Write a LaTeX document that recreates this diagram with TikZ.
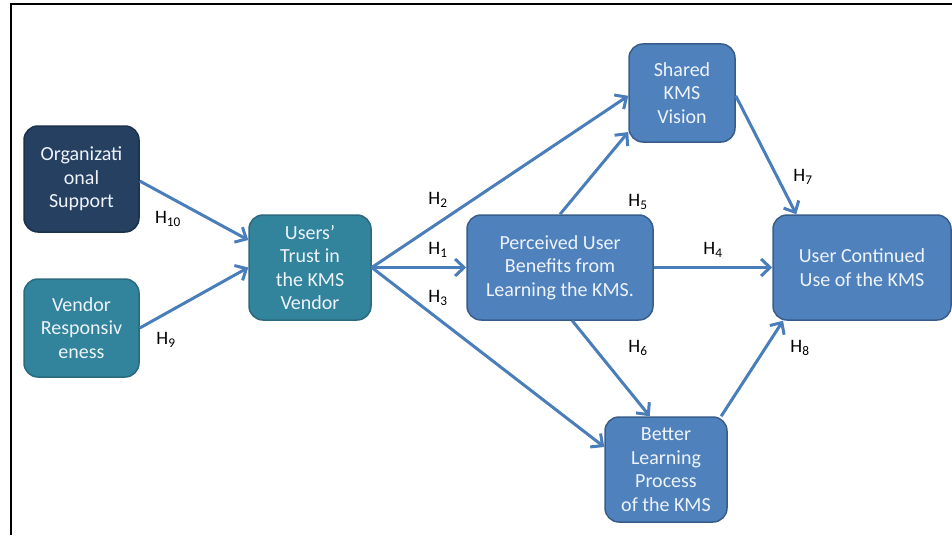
\documentclass[tikz,border=0pt]{standalone}
\usepackage{fontspec}
\setmainfont{Carlito}
\usetikzlibrary{arrows.meta,calc}
\definecolor{navyfill}{HTML}{254061}
\definecolor{navyline}{HTML}{1C314B}
\definecolor{tealfill}{HTML}{31849B}
\definecolor{tealline}{HTML}{2B6A7E}
\definecolor{bluefill}{HTML}{4F81BD}
\definecolor{blueline}{HTML}{385D8A}
\definecolor{edgec}{HTML}{4A7EBB}
\definecolor{boxtext}{HTML}{EEF3FA}
\begin{document}
\begin{tikzpicture}[x=1pt,y=-1pt,
  box/.style={line width=1.5pt, rounded corners=14pt, align=center, text=boxtext,
    font=\fontsize{20}{23.5}\selectfont, inner sep=0pt},
  navybox/.style={box, fill=navyfill, draw=navyline},
  tealbox/.style={box, fill=tealfill, draw=tealline},
  bluebox/.style={box, fill=bluefill, draw=blueline},
  conn/.style={draw=edgec, line width=3pt, -{Straight Barb[length=9pt,width=17pt]}},
  hlab/.style={font=\fontsize{19}{21}\selectfont, text=black, inner sep=0pt}
]
\useasboundingbox (0,0) rectangle (952,535);
\draw[line width=2pt] (952,4) -- (10.5,4) -- (10.5,535);

\node[navybox, minimum width=115pt, minimum height=106pt] (org) at (81.5,179) {Organizati\\onal\\Support};
\node[tealbox, minimum width=115pt, minimum height=98pt] (vendor) at (81.5,328) {Vendor\\Responsiv\\eness};
\node[tealbox, minimum width=122pt, minimum height=105pt] (trust) at (310,267.5) {Users’\\Trust in\\the KMS\\Vendor};
\node[bluebox, minimum width=186pt, minimum height=105pt] (perc) at (560,267.5) {Perceived User\\Benefits from\\Learning the KMS.};
\node[bluebox, minimum width=106pt, minimum height=98pt] (shared) at (682,93) {Shared\\KMS\\Vision};
\node[bluebox, minimum width=178pt, minimum height=105pt] (ucu) at (862,267.5) {User Continued\\Use of the KMS};
\node[bluebox, minimum width=122pt, minimum height=105pt] (better) at (666,469.5) {Better\\Learning\\Process\\of the KMS};

\draw[conn] (org.-2) -- (trust.156);
\draw[conn] (vendor.east) -- (trust.west);
\draw[conn] (trust.east) -- (shared.183);
\draw[conn] (trust.east) -- (perc.west);
\draw[conn] (trust.east) -- (better.160);
\draw[conn] (perc.north) -- (shared.216);
\draw[conn] (perc.east) -- (ucu.west);
\draw[conn] (perc.-77) -- (better.107);
\draw[conn] (shared.-3) -- (ucu.141);
\draw[conn] (better.44) -- (ucu.214);

\node[hlab] (h10) at (168,219) {H\textsubscript{10}};
\node[hlab] (h9) at (166,340) {H\textsubscript{9}};
\node[hlab] (h2) at (438,200) {H\textsubscript{2}};
\node[hlab] (h1) at (438,250) {H\textsubscript{1}};
\node[hlab] (h3) at (438,298) {H\textsubscript{3}};
\node[hlab] (h5) at (638,202) {H\textsubscript{5}};
\node[hlab] (h4) at (713,250) {H\textsubscript{4}};
\node[hlab] (h6) at (638,348) {H\textsubscript{6}};
\node[hlab] (h7) at (803,177) {H\textsubscript{7}};
\node[hlab] (h8) at (800,348) {H\textsubscript{8}};
\end{tikzpicture}
\end{document}
